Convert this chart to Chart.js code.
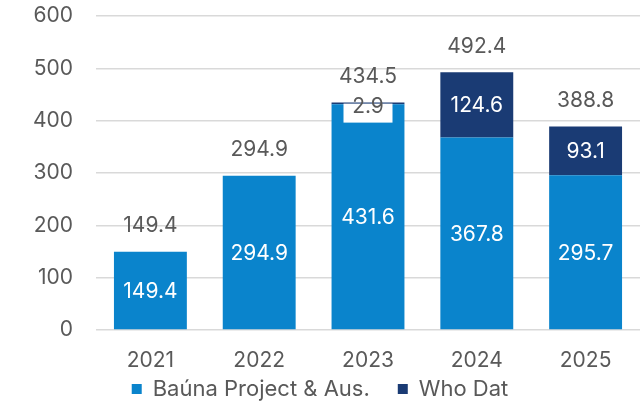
<!DOCTYPE html>
<html>
<head>
<meta charset="utf-8">
<script src="https://cdn.jsdelivr.net/npm/chart.js@4"></script>
<style>
  html, body { margin: 0; padding: 0; background: #fff; }
  #wrap { width: 644px; height: 406px; }
</style>
</head>
<body>
<div id="wrap"><canvas id="chart" width="644" height="406"></canvas></div>
<script>
const years = ["2021", "2022", "2023", "2024", "2025"];
const bauna = [149.4, 294.9, 431.6, 367.8, 295.7];
const whoDat = [null, null, 2.9, 124.6, 93.1];
const totals = [149.4, 294.9, 434.5, 492.4, 388.8];
const yTicks = [0, 100, 200, 300, 400, 500, 600];

const FONT = "Inter, 'Open Sans', sans-serif";
const GREY = "#595959";
const FS = 21;
const LEG_PAD = 28;

// value labels inside segments + totals above stacks
const labelPlugin = {
  id: "labels",
  afterDatasetsDraw(chart) {
    const ctx = chart.ctx;
    ctx.save();
    ctx.font = FS + "px " + FONT;
    ctx.textAlign = "center";
    ctx.textBaseline = "middle";
    chart.data.datasets.forEach((ds, di) => {
      const meta = chart.getDatasetMeta(di);
      meta.data.forEach((bar, i) => {
        const v = ds.data[i];
        if (v == null) return;
        const top = Math.min(bar.y, bar.base);
        const bot = Math.max(bar.y, bar.base);
        if (bot - top < 20) {
          // tiny segment: label on white box
          ctx.fillStyle = "#fff";
          ctx.fillRect(bar.x - 24.5, top + 1, 49, 19);
          ctx.fillStyle = GREY;
          ctx.fillText(v.toFixed(1), bar.x, top + 4);
        } else {
          ctx.fillStyle = "#fff";
          ctx.fillText(v.toFixed(1), bar.x, (top + bot) / 2 + 1);
        }
      });
    });
    // totals
    const y = chart.scales.y;
    const m0 = chart.getDatasetMeta(0);
    ctx.fillStyle = GREY;
    totals.forEach((t, i) => {
      ctx.fillText(t.toFixed(1), m0.data[i].x, y.getPixelForValue(t) - 26);
    });
    ctx.restore();
  }
};

// legend: wide horizontal spacing, but compact height
const legendFit = {
  id: "legendFit",
  beforeInit(chart) {
    const fit = chart.legend.fit;
    chart.legend.fit = function () {
      fit.call(this);
      this.height = 32;
    };
  },
  afterLayout(chart) {
    chart.legend.top -= LEG_PAD - 4;
  }
};

new Chart(document.getElementById("chart"), {
  type: "bar",
  data: {
    labels: years,
    datasets: [
      { label: "Baúna Project & Aus.", data: bauna, backgroundColor: "#0a84cc" },
      { label: "Who Dat", data: whoDat, backgroundColor: "#1a3b74" }
    ]
  },
  options: {
    responsive: false,
    animation: false,
    layout: { padding: { top: 16, right: 4, bottom: 0, left: 0 } },
    datasets: { bar: { barPercentage: 0.67, categoryPercentage: 1 } },
    plugins: {
      tooltip: { enabled: false },
      legend: {
        position: "bottom",
        labels: {
          font: { family: FONT, size: 22 },
          color: GREY,
          boxWidth: 10,
          boxHeight: 10,
          padding: LEG_PAD
        }
      }
    },
    scales: {
      x: {
        stacked: true,
        grid: { display: false, drawTicks: false },
        border: { display: false },
        ticks: { font: { family: FONT, size: FS }, color: GREY, padding: 18 },
        afterFit: s => { s.height = 44; }
      },
      y: {
        stacked: true,
        min: 0,
        max: 600,
        afterBuildTicks: s => { s.ticks = yTicks.map(v => ({ value: v })); },
        afterFit: s => { s.width = 96; s.paddingTop = 0; s.paddingBottom = 0; },
        grid: { color: "#d9d9d9", lineWidth: 1.5, drawTicks: false },
        border: { display: false },
        ticks: { font: { family: FONT, size: FS }, color: GREY, padding: 23 }
      }
    }
  },
  plugins: [labelPlugin, legendFit]
});
</script>
</body>
</html>
